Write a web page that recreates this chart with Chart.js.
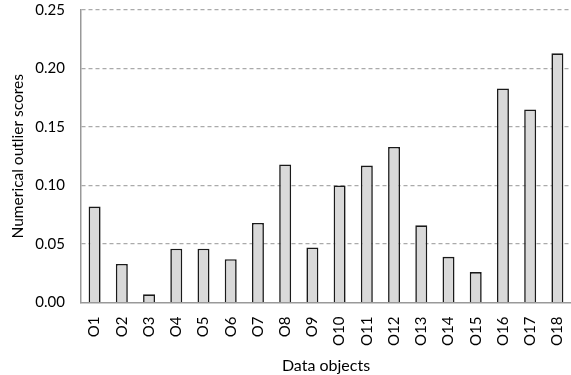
<!DOCTYPE html>
<html>
<head>
<meta charset="utf-8">
<script src="https://cdn.jsdelivr.net/npm/chart.js@4"></script>
<style>
  body { margin: 0; background: #fff; }
  canvas { display: block; }
</style>
</head>
<body>
<canvas id="outlierChart" width="571" height="375"></canvas>
<script>
const objectLabels = ['O1', 'O2', 'O3', 'O4', 'O5', 'O6', 'O7', 'O8', 'O9',
  'O10', 'O11', 'O12', 'O13', 'O14', 'O15', 'O16', 'O17', 'O18'];
const outlierScores = [0.082, 0.033, 0.007, 0.046, 0.046, 0.037, 0.068, 0.118, 0.047,
  0.100, 0.117, 0.133, 0.066, 0.039, 0.026, 0.183, 0.165, 0.213];
const yTicks = [0, 0.05, 0.10, 0.15, 0.20, 0.25];

const fontFamily = 'Lato, "Open Sans", sans-serif';

const ctx = document.getElementById('outlierChart').getContext('2d');

new Chart(ctx, {
  type: 'bar',
  data: {
    labels: objectLabels,
    datasets: [{
      label: 'Numerical outlier scores',
      data: outlierScores,
      backgroundColor: '#d9d9d9',
      borderColor: '#1a1a1a',
      borderWidth: 1.6,
      barPercentage: 0.44,
      categoryPercentage: 1
    }]
  },
  options: {
    responsive: false,
    animation: false,
    layout: {
      padding: { top: 10, right: 0, bottom: 0, left: 0 }
    },
    plugins: {
      legend: { display: false },
      tooltip: { enabled: false }
    },
    scales: {
      x: {
        grid: { display: false },
        border: { display: true, color: '#999', width: 1.5 },
        ticks: {
          color: '#000',
          font: { family: fontFamily, size: 15 },
          minRotation: 90,
          maxRotation: 90,
          padding: 6,
          autoSkip: false
        },
        title: {
          display: true,
          text: 'Data objects',
          color: '#000',
          font: { family: fontFamily, size: 16 },
          padding: { top: 0, bottom: 0 }
        },
        afterFit: scale => {
          scale.height = 72.5;
          scale.paddingLeft = 0;
          scale.paddingRight = 0;
        }
      },
      y: {
        min: 0,
        max: 0.25,
        afterBuildTicks: scale => {
          scale.ticks = yTicks.map(v => ({ value: v }));
        },
        grid: {
          drawTicks: false,
          color: c => (c.tick && c.tick.value === 0) ? 'rgba(0,0,0,0)' : '#aaa',
          lineWidth: 1.2
        },
        border: { display: true, color: '#999', width: 1.5, dash: [4, 3] },
        ticks: {
          color: '#000',
          font: { family: fontFamily, size: 15 },
          padding: 16,
          callback: v => v.toFixed(2)
        },
        title: {
          display: true,
          text: 'Numerical outlier scores',
          color: '#000',
          font: { family: fontFamily, size: 15.5 },
          padding: { top: 9, bottom: 0 }
        },
        afterFit: scale => {
          scale.width = 81;
          scale.paddingTop = 0;
          scale.paddingBottom = 0;
        }
      }
    }
  }
});
</script>
</body>
</html>
